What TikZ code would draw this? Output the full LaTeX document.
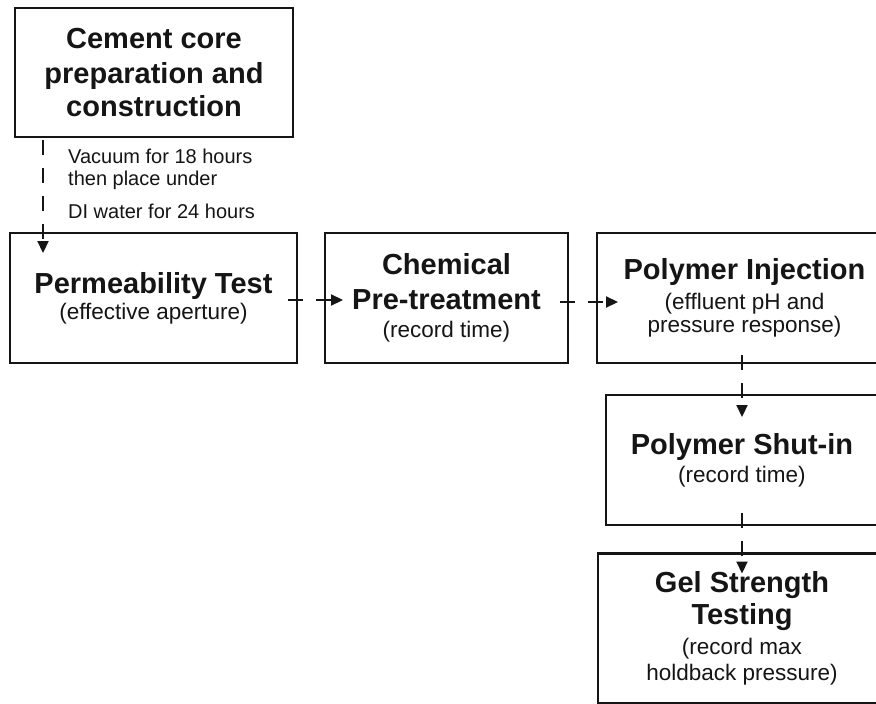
\documentclass[tikz,border=0pt]{standalone}
\usepackage{fontspec}
\setmainfont{Liberation Sans}
\usetikzlibrary{calc,arrows.meta}
\newcommand{\bfnt}{\fontsize{29}{0}\selectfont\bfseries\lineskiplimit=-\maxdimen\lineskip=0pt}
\newcommand{\rfnt}{\fontsize{22.5}{0}\selectfont\mdseries}
\newcommand{\nfnt}{\fontsize{20}{0}\selectfont\mdseries\lineskiplimit=-\maxdimen\lineskip=0pt}
\definecolor{ink}{HTML}{151515}
\begin{document}
\begin{tikzpicture}[x=1pt,y=-1pt,
  box/.style={draw=ink,line width=2.6pt,rectangle,inner sep=0pt,outer sep=0pt,
    align=center,text=ink,font=\bfnt},
  flow/.style={draw=ink,line width=2.2pt,dash pattern=on 15pt off 13pt,
    -{Triangle[length=12pt,width=11pt]}}]
\useasboundingbox (0,0) rectangle (876,704);
\clip (0,0) rectangle (876,704);
\fill[white] (0,0) rectangle (876,704);

\node[box,minimum width=278pt,minimum height=129pt] (cement) at (154,72.5)
  {Cement core\\[35pt]preparation and\\[33pt]construction};
\node[box,minimum width=287pt,minimum height=130pt] (perm) at (153.5,298)
  {Permeability Test\\[26pt]{\rfnt (effective aperture)}};
\node[box,minimum width=243pt,minimum height=130pt] (chem) at (446.5,298)
  {Chemical\\[35pt]Pre-treatment\\[28pt]{\rfnt (record time)}};
\node[box,minimum width=295pt,minimum height=130pt] (poly) at (744.5,298)
  {Polymer Injection\\[30pt]{\rfnt (effluent pH and}\\[23pt]{\rfnt pressure response)}};
\node[box,minimum width=272pt,minimum height=130pt] (shut) at (742,460)
  {Polymer Shut-in\\[28pt]{\rfnt (record time)}};
\node[box,minimum width=288pt,minimum height=150pt] (gel) at (742,628.5)
  {Gel Strength\\[32pt]Testing\\[30pt]{\rfnt (record max}\\[26pt]{\rfnt holdback pressure)}};

\node[anchor=north west,inner sep=0pt,align=left,text=ink,font=\nfnt] (note) at (68,148.5)
  {Vacuum for 18 hours\\[22pt]then place under\\[33pt]DI water for 24 hours};

\draw[flow] ($(cement.south west)+(28,3)$) -- ($(perm.north west)+(33,20)$);
\draw[flow] ($(perm.east)+(-9,2)$) -- ($(chem.west)+(18,2)$);
\draw[flow] ($(chem.east)+(-8,4)$) -- ($(poly.west)+(21,4)$);
\draw[flow] ($(poly.south)+(-2.5,-8)$) -- ($(shut.north)+(0,22)$);
\draw[flow] ($(shut.south)+(0,-12)$) -- ($(gel.north)+(0,20)$);
\end{tikzpicture}
\end{document}
